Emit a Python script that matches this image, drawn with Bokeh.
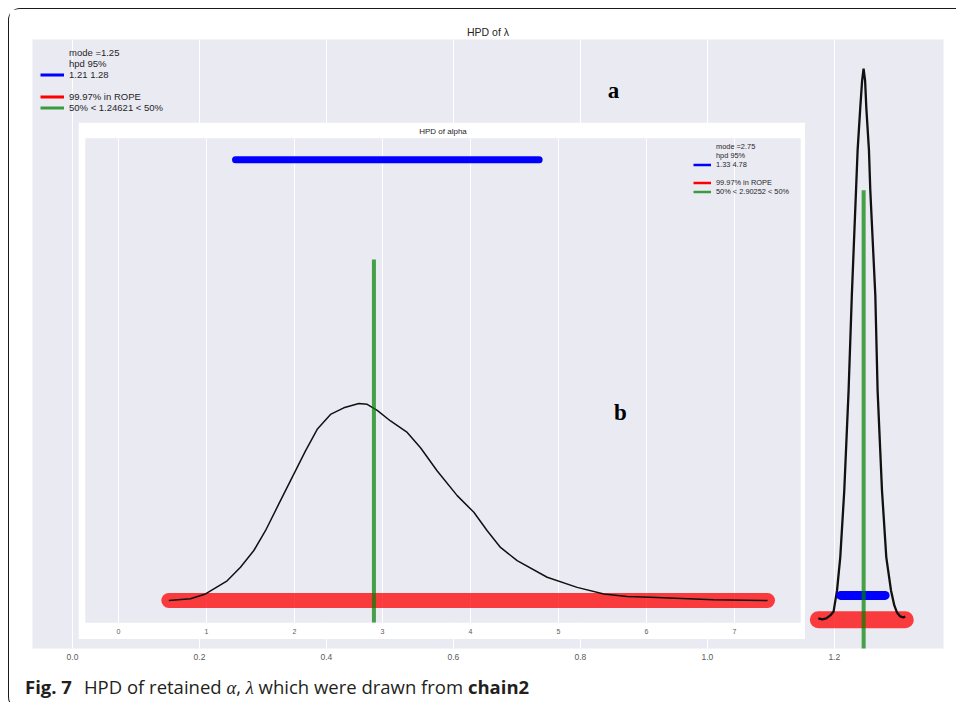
from bokeh.plotting import figure
from bokeh.models import Range1d, FixedTicker, Legend, LegendItem, Label, Div
from bokeh.layouts import column
from bokeh.embed import file_html
from bokeh.resources import INLINE

# ---------------- panel a: posterior of lambda ----------------
lam_kde_x = [1.1748, 1.1811, 1.1874, 1.1937, 1.1989, 1.2043, 1.2094, 1.2157, 1.2225,
             1.2276, 1.2342, 1.2367, 1.2409, 1.2438, 1.2461, 1.2485, 1.2504, 1.2546,
             1.2567, 1.2646, 1.2682, 1.2751, 1.2819, 1.2893, 1.2945, 1.2987, 1.3039,
             1.3087, 1.3118]
lam_kde_y = [0.00, -0.04, 0.00, 0.12, 0.28, 1.12, 2.45, 5.11, 9.10,
             12.90, 17.09, 18.69, 20.40, 21.48, 21.96, 21.48, 20.40, 18.69,
             17.09, 12.90, 9.10, 5.11, 2.44, 1.12, 0.52, 0.24, 0.08,
             0.04, 0.08]
lam_mode = 1.25
lam_hpd = [1.21, 1.28]
lam_hpd_level = 0.92
lam_rope = [1.1748, 1.3118]
lam_rope_level = -0.05
lam_rope_pct = "99.97%"
lam_median = 1.24621
lam_median_span = [-1.5, 17.1]
lam_ticks = [0.0, 0.2, 0.4, 0.6, 0.8, 1.0, 1.2]
lam_tick_labels = ["0.0", "0.2", "0.4", "0.6", "0.8", "1.0", "1.2"]
lam_xlim = [-0.063, 1.372]
lam_ylim = [-1.2, 23.12]

# ---------------- panel b: posterior of alpha ----------------
alpha_kde_x = [0.572, 0.818, 0.989, 1.235, 1.386, 1.538, 1.670, 1.822, 1.992, 2.125,
               2.258, 2.409, 2.560, 2.731, 2.826, 2.940, 3.091, 3.281, 3.432, 3.622,
               3.849, 4.038, 4.190, 4.341, 4.530, 4.871, 5.212, 5.515, 5.780, 6.045,
               6.761, 7.375]
alpha_kde_y = [0.000, 0.004, 0.015, 0.045, 0.076, 0.114, 0.159, 0.220, 0.288, 0.341,
               0.390, 0.424, 0.439, 0.449, 0.447, 0.433, 0.409, 0.383, 0.348, 0.295,
               0.239, 0.201, 0.159, 0.121, 0.091, 0.053, 0.030, 0.015, 0.009, 0.0075,
               0.002, 0.000]
alpha_mode = 2.75
alpha_hpd = [1.33, 4.78]
alpha_hpd_level = 1.004
alpha_rope = [0.572, 7.375]
alpha_rope_level = 0.0
alpha_rope_pct = "99.97%"
alpha_median = 2.90252
alpha_median_span = [-0.1, 0.777]
alpha_ticks = [0, 1, 2, 3, 4, 5, 6, 7]
alpha_tick_labels = ["0", "1", "2", "3", "4", "5", "6", "7"]
alpha_xlim = [-0.375, 7.75]
alpha_ylim = [-0.05, 1.0524]

BG = "#EAEAF2"
TXT = "#262626"
FONT = "Liberation Sans"
NAN = float("nan")


def style(p, ticks, labels, title_size, tick_size, standoff, title_standoff):
    p.frame_align = False
    p.title.text_font = FONT
    p.title.text_font_size = title_size
    p.title.text_font_style = "normal"
    p.title.text_color = TXT
    p.title.align = "center"
    p.title.standoff = title_standoff
    ax = p.xaxis[0]
    ax.ticker = FixedTicker(ticks=ticks)
    ax.major_label_overrides = {t: l for t, l in zip(ticks, labels)}
    ax.axis_line_color = None
    ax.major_tick_line_color = None
    ax.minor_tick_line_color = None
    ax.major_tick_out = 0
    ax.major_tick_in = 0
    ax.minor_tick_out = 0
    ax.major_label_standoff = standoff
    ax.major_label_text_font = FONT
    ax.major_label_text_font_size = tick_size
    ax.major_label_text_color = "#5a5a5a"
    p.xgrid.ticker = FixedTicker(ticks=ticks)
    p.xgrid.grid_line_color = "white"
    p.xgrid.grid_line_width = 1
    p.ygrid.visible = False


def draw(p, kx, ky, rope, rope_lvl, hpd, hpd_lvl, med, med_span, w_rope, w_hpd, w_kde):
    p.line(rope, [rope_lvl, rope_lvl], line_color="red", line_alpha=0.75,
           line_width=w_rope, line_cap="round")
    p.line(kx, ky, line_color="#111111", line_width=w_kde)
    p.line(hpd, [hpd_lvl, hpd_lvl], line_color="blue", line_width=w_hpd, line_cap="round")
    p.line([med, med], med_span, line_color="green", line_alpha=0.7, line_width=4)


def legend(p, mode, hpd, pct, med, font_size, gh, gw, lw, **loc):
    none = p.line([NAN], [NAN], line_alpha=0)
    hb = p.line([NAN], [NAN], line_color="blue", line_width=lw)
    hr = p.line([NAN], [NAN], line_color="red", line_width=lw)
    hg = p.line([NAN], [NAN], line_color="green", line_alpha=0.75, line_width=lw)
    items = [
        LegendItem(label="mode =%g" % mode, renderers=[none]),
        LegendItem(label="hpd 95%", renderers=[none]),
        LegendItem(label="%g %g" % (hpd[0], hpd[1]), renderers=[hb]),
        LegendItem(label=" ", renderers=[none]),
        LegendItem(label="%s in ROPE" % pct, renderers=[hr]),
        LegendItem(label="50%% < %s < 50%%" % med, renderers=[hg]),
    ]
    lg = Legend(items=items, padding=0, spacing=0, glyph_height=gh, label_height=gh,
                glyph_width=gw, label_standoff=5, label_text_font=FONT,
                label_text_font_size=font_size, label_text_color=TXT,
                background_fill_alpha=0, border_line_alpha=0, **loc)
    p.add_layout(lg)


# ---------------- figure a ----------------
pa = figure(width=947, height=659, output_backend="svg", toolbar_location=None,
            x_range=Range1d(*lam_xlim), y_range=Range1d(*lam_ylim),
            y_axis_location=None, title="HPD of \u03bb",
            min_border_left=23, min_border_right=13, min_border_top=30, min_border_bottom=20,
            background_fill_color=BG, border_fill_color="white", outline_line_color=None)
style(pa, lam_ticks, lam_tick_labels, "10.5px", "8.5px", 5, 3)
draw(pa, lam_kde_x, lam_kde_y, lam_rope, lam_rope_level, lam_hpd, lam_hpd_level,
     lam_median, lam_median_span, 17, 9, 2.3)
legend(pa, lam_mode, lam_hpd, lam_rope_pct, lam_median, "9.5px", 11, 24, 3,
       location="top_left", margin=8)
pa.add_layout(Label(x=581, y=558, x_units="screen", y_units="screen", text="a",
                    text_font="Liberation Serif", text_font_style="bold",
                    text_font_size="23px", text_align="center", text_baseline="alphabetic",
                    text_color="black"))

# ---------------- figure b (inset) ----------------
pb = figure(width=727, height=517, output_backend="svg", toolbar_location=None,
            x_range=Range1d(*alpha_xlim), y_range=Range1d(*alpha_ylim),
            y_axis_location=None, title="HPD of alpha",
            min_border_left=7, min_border_right=5, min_border_top=15, min_border_bottom=17,
            background_fill_color=BG, border_fill_color="white", outline_line_color=None,
            styles={"position": "absolute", "left": "69px", "top": "113px"})
style(pb, alpha_ticks, alpha_tick_labels, "8px", "7px", 6, 5)
draw(pb, alpha_kde_x, alpha_kde_y, alpha_rope, alpha_rope_level, alpha_hpd, alpha_hpd_level,
     alpha_median, alpha_median_span, 15, 7, 1.5)
legend(pb, alpha_mode, alpha_hpd, alpha_rope_pct, alpha_median, "7.4px", 9, 18, 2.5,
       location=(608, 426))
pb.add_layout(Label(x=535, y=210, x_units="screen", y_units="screen", text="b",
                    text_font="Liberation Serif", text_font_style="bold",
                    text_font_size="23px", text_align="center", text_baseline="alphabetic",
                    text_color="black"))

# ---------------- caption ----------------
cap = Div(width=947, height=30,
          text='<div style="padding-left:11px; padding-top:2px; font-family:\'Open Sans\'; '
               'font-size:18.5px; line-height:24px; color:#231f20; white-space:nowrap;">'
               '<b>Fig. 7</b><span style="margin-left:12px">HPD of retained '
               '<i style="font-family:\'Liberation Serif\'">\u03b1</i>, '
               '<i style="font-family:\'Liberation Serif\'">\u03bb</i> which were drawn from '
               '<b>chain2</b></span></div>')

root = column(pa, cap, pb, styles={
    "margin-left": "8px", "margin-top": "8px",
    "border-left": "1px solid #1a1a1a", "border-top": "1px solid #1a1a1a",
    "border-bottom": "1px solid #1a1a1a", "border-top-left-radius": "12px",
    "border-bottom-left-radius": "12px"})

open("out.html", "w").write(file_html(root, INLINE))
